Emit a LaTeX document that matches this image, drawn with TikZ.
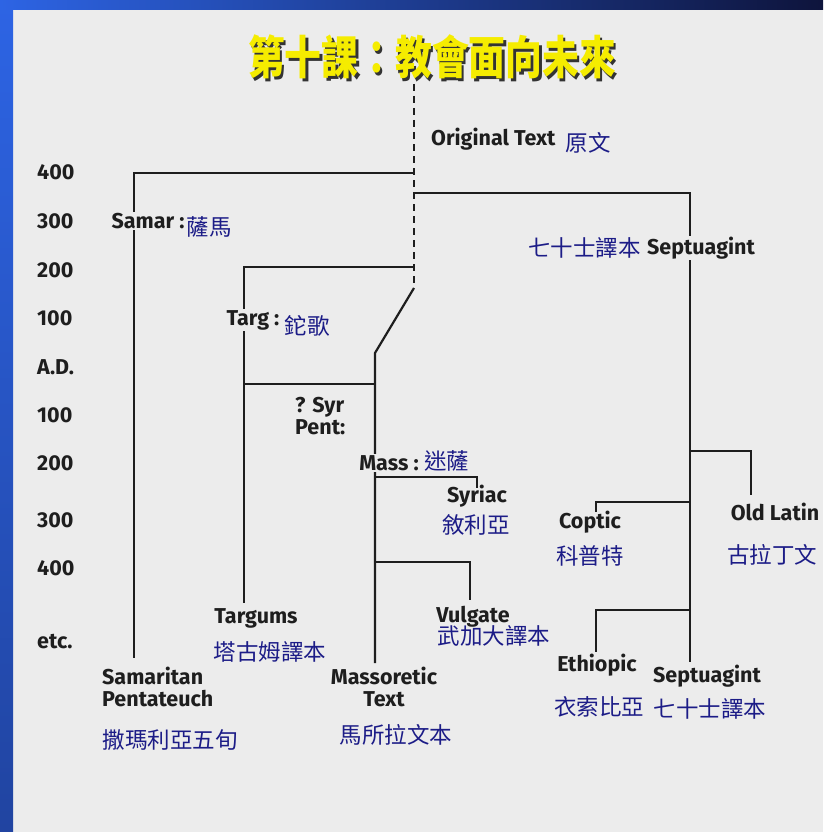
\documentclass[tikz,border=0pt]{standalone}
\usepackage{fontspec}
\setmainfont{Fira Sans}
\newfontfamily\cjk{Noto Sans CJK TC}
\usetikzlibrary{positioning}
\definecolor{ink}{RGB}{30,30,30}
\definecolor{navy}{RGB}{28,28,135}
\definecolor{pagebg}{RGB}{236,236,236}
\definecolor{frameblue}{RGB}{45,100,228}
\definecolor{framedark}{RGB}{14,20,60}
\definecolor{titleyellow}{RGB}{245,236,0}

\begin{document}
\begin{tikzpicture}[x=1pt, y=-1pt,
  lab/.style={font=\bfseries\fontsize{21.5}{22.5}\selectfont, text=ink, inner sep=1pt},
  zh/.style={font=\cjk\fontsize{22.5}{26}\selectfont, text=navy, inner sep=1pt},
  gap/.style={fill=pagebg},
  stem/.style={draw=ink, line width=2.2pt},
  heading/.style={font=\cjk\bfseries\fontsize{46}{50}\selectfont, xscale=0.8}]
\useasboundingbox (0,0) rectangle (823,832);
% page and slide frame
\fill[pagebg] (0,0) rectangle (823,832);
\shade[top color=frameblue, bottom color=frameblue!60!framedark] (0,0) rectangle (13,832);
\shade[left color=frameblue, right color=framedark] (0,0) rectangle (823,10);

\node[heading, text=black!80] (titleshadow) at (434.5,59.5) {第十課：教會面向未來};
\node[heading, text=titleyellow] (title) at (432,57) {第十課：教會面向未來};

% time axis
\foreach \yv/\t [count=\i] in {172/400, 221/300, 270/200, 318/100, 367/A.D., 415/100, 463/200, 520/300, 568/400, 642/etc.}
  \node[lab, anchor=west] (ax\i) at (36,\yv) {\t};

% branch points
\coordinate (top) at (414,84);
\coordinate (jSam) at (414,173);
\coordinate (jSept) at (414,193);
\coordinate (jTarg) at (414,267);
\coordinate (kink) at (414,288);
\coordinate (kMass) at (375,353);
\coordinate (jSyrP) at (375,384);
\coordinate (jSyr) at (375,477);
\coordinate (jVulg) at (375,562);
\coordinate (eMass) at (375,663);
\coordinate (eSam) at (134,658);
\coordinate (eTarg) at (244,603);
\coordinate (tSyrP) at (244,384);
\coordinate (eSyr) at (477,488);
\coordinate (eVulg) at (470,600);
\coordinate (eSept) at (690,662);
\coordinate (jLat) at (690,451);
\coordinate (eLat) at (751,495);
\coordinate (jCopt) at (690,502);
\coordinate (eCopt) at (596,512);
\coordinate (jEth) at (689,610);
\coordinate (eEth) at (596,652);

\draw[stem, line width=2pt, dash pattern=on 7pt off 5pt] (top) -- (kink);
\draw[stem] (jSam) -| (eSam);
\draw[stem] (jSept) -| (eSept);
\draw[stem] (jTarg) -| (eTarg);
\draw[stem] (kink) -- (kMass) -- (eMass);
\draw[stem] (jSyrP) -- (tSyrP);
\draw[stem] (jSyr) -| (eSyr);
\draw[stem] (jVulg) -| (eVulg);
\draw[stem] (jLat) -| (eLat);
\draw[stem] (jCopt) -| (eCopt);
\draw[stem] (jEth) -| (eEth);

% labels
\node[lab, anchor=west] (orig) at (430,139) {Original Text};
\node[zh, right=8pt of orig, yshift=-4pt] (origZh) {原文};
\node[lab, gap] (samar) at (148,221) {Samar :};
\node[zh, right=0pt of samar, yshift=-6pt] (samarZh) {薩馬};
\node[lab, gap] (sept) at (701,248) {Septuagint};
\node[zh, left=4pt of sept] (septZh) {七十士譯本};
\node[lab, gap] (targ) at (253,320) {Targ :};
\node[zh, right=3pt of targ, yshift=-6pt] (targZh) {鉈歌};
\node[lab, align=left, anchor=west] (syrp) at (294,416) {? Syr\\Pent:};
\node[lab, gap] (mass) at (389,463) {Mass :};
\node[zh, right=3pt of mass, yshift=2pt] (massZh) {迷薩};
\node[lab] (syr) at (477,496) {Syriac};
\node[zh] (syrZh) at (476,525) {敘利亞};
\node[lab] (vulg) at (473,617) {Vulgate};
\node[zh] (vulgZh) at (494,636) {武加大譯本};
\node[lab] (targums) at (256,618) {Targums};
\node[zh] (targumsZh) at (270,652) {塔古姆譯本};
\node[lab, align=left, anchor=west] (samp) at (101,687) {Samaritan\\Pentateuch};
\node[zh] (sampZh) at (170,740) {撒瑪利亞五旬};
\node[lab, align=center] (maso) at (384,687) {Massoretic\\Text};
\node[zh] (masoZh) at (396,735) {馬所拉文本};
\node[lab] (lat) at (775,512) {Old Latin};
\node[zh] (latZh) at (772,555) {古拉丁文};
\node[lab] (copt) at (590,522) {Coptic};
\node[zh] (coptZh) at (590,556) {科普特};
\node[lab] (eth) at (597,665) {Ethiopic};
\node[zh] (ethZh) at (599,707) {衣索比亞};
\node[lab] (sept2) at (707,676) {Septuagint};
\node[zh] (sept2Zh) at (710,709) {七十士譯本};
\end{tikzpicture}
\end{document}
